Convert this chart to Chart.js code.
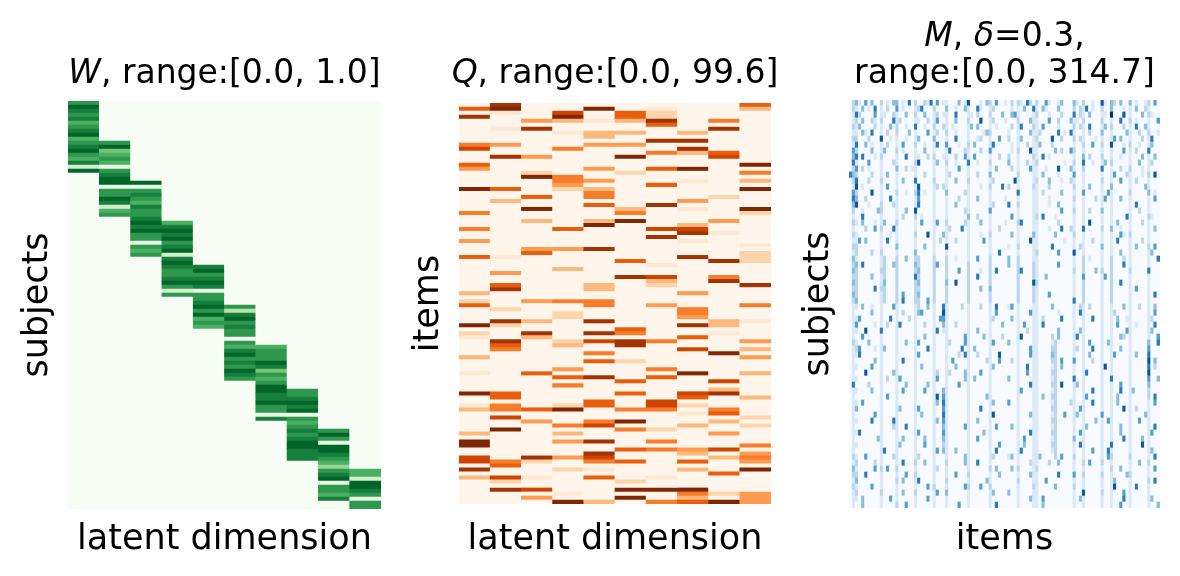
<!DOCTYPE html>
<html>
<head>
<meta charset="utf-8">
<script src="https://cdn.jsdelivr.net/npm/chart.js@4.4.1/dist/chart.umd.min.js"></script>
<style>
  html, body { margin: 0; padding: 0; background: #fff; }
  body { width: 1180px; height: 576px; position: relative; overflow: hidden; font-family: "DejaVu Sans", sans-serif; }
  .panel { position: absolute; top: 0; height: 576px; }
  .title { position: absolute; text-align: center; font-size: 33px; line-height: 37px; color: #000; white-space: nowrap; }
  .title i { font-style: oblique; }
</style>
</head>
<body>
<div class="panel" style="left:0;width:400px"><canvas id="wChart" width="400" height="576"></canvas></div>
<div class="panel" style="left:400px;width:390px"><canvas id="qChart" width="390" height="576"></canvas></div>
<div class="panel" style="left:790px;width:390px"><canvas id="mChart" width="390" height="576"></canvas></div>

<div class="title" style="left:0;width:449px;top:53px"><i>W</i>, range:[0.0, 1.0]</div>
<div class="title" style="left:415px;width:400px;top:53px"><i>Q</i>, range:[0.0, 99.6]</div>
<div class="title" style="left:829px;width:351px;top:16px"><i>M</i>, <i>δ</i>=0.3,<br>range:[0.0, 314.7]</div>

<script>
// levels 0..9 (0 = empty)

// W: 102 subject rows x 10 latent dims, each dim is one run of rows
var wRowCount = 102;
var wStart = [0, 10, 20, 30, 41, 51, 61, 72, 82, 92];
var wLevels = [
    "798786789678976829",
    "7956761789917798267",
    "9178768778989771767",
    "6898978928987789727",
    "8978981778979676",
    "7389787707689787987",
    "6777985767998897718",
    "778989176787899888",
    "797199876478917768",
    "6629987177"
];

// Q: 100 item rows x 10 latent dims, [row, level], other cells empty
var qRowCount = 100;
var qCells = [
    [[1,6],[3,8],[10,5],[11,7],[15,6],[16,4],[21,9],[27,5],[31,5],[34,4],[38,6],[47,3],[49,2],[50,6],[55,9],[57,2],[58,1],[63,3],[67,1],[72,9],[75,1],[76,3],[82,3],[84,9],[85,9],[88,7],[89,7],[91,8],[93,3]],
    [[0,8],[1,9],[2,1],[6,1],[10,4],[13,8],[21,6],[24,3],[38,1],[42,4],[45,6],[46,8],[51,2],[54,8],[55,2],[59,8],[60,6],[61,5],[72,6],[73,6],[75,5],[76,5],[78,7],[81,9],[89,5],[90,6],[93,7],[94,2],[96,8]],
    [[4,4],[6,8],[13,4],[17,2],[18,9],[23,6],[26,9],[29,3],[36,4],[37,6],[49,4],[54,3],[57,8],[58,3],[67,6],[76,6],[79,4],[88,8],[89,2],[93,1],[96,7],[98,4]],
    [[2,7],[3,9],[4,3],[7,1],[11,5],[18,5],[19,5],[20,4],[21,2],[31,6],[36,4],[41,3],[49,5],[52,2],[53,2],[59,2],[60,3],[66,4],[68,6],[70,5],[75,2],[76,9],[80,5],[82,3],[84,4],[88,4],[91,2],[97,1],[99,9]],
    [[1,9],[4,1],[7,3],[8,3],[10,4],[16,4],[19,4],[21,3],[22,5],[23,5],[25,6],[29,3],[30,9],[36,8],[45,3],[46,3],[49,5],[50,5],[54,8],[57,8],[59,7],[62,5],[64,6],[68,8],[74,6],[75,6],[79,5],[80,7],[84,8],[87,8],[88,7],[89,5],[91,1],[93,6],[99,3]],
    [[2,6],[3,6],[4,3],[7,3],[10,4],[13,9],[17,2],[26,3],[27,5],[29,9],[39,6],[43,8],[56,6],[57,5],[59,8],[60,8],[64,2],[69,6],[72,6],[76,5],[79,9],[81,5],[86,6],[89,6],[94,2],[96,9],[98,9]],
    [[1,1],[2,2],[3,2],[4,8],[5,6],[9,8],[12,5],[16,6],[20,6],[25,8],[31,7],[33,8],[40,1],[43,7],[44,3],[45,2],[50,4],[59,5],[66,5],[68,6],[74,7],[75,7],[76,5],[81,2],[84,5],[86,5],[93,1],[96,9],[99,5]],
    [[7,3],[9,8],[11,8],[12,3],[16,9],[19,1],[24,4],[26,1],[30,3],[31,7],[32,8],[34,1],[38,8],[47,4],[51,5],[52,5],[53,4],[55,8],[58,6],[61,7],[67,9],[72,7],[73,6],[75,2],[77,1],[80,3],[86,4],[87,3],[89,6],[91,3],[96,9],[97,5],[98,3],[99,6]],
    [[4,5],[6,8],[12,6],[13,7],[23,2],[29,4],[32,1],[39,8],[43,5],[44,8],[54,3],[55,3],[57,1],[62,9],[69,7],[71,3],[72,8],[76,5],[77,6],[79,3],[82,4],[86,7],[88,3],[92,6],[97,2],[99,9]],
    [[0,6],[1,3],[15,9],[17,5],[19,3],[21,9],[26,9],[27,2],[35,1],[37,2],[38,2],[39,2],[45,8],[50,5],[54,1],[59,4],[61,3],[63,4],[67,3],[73,3],[78,2],[80,2],[85,5],[87,4],[88,5],[89,4],[91,9],[97,4],[98,4],[99,4]]
];

// M: 68 subject bands x 100 items, one string per band (spaces only for reading)
var mItemCount = 100;
var mRows = [
    "0231040300 2010330105 0200215040 1100030160 0010320400 1020210520 2004100130 0031020010 0610320300 3010012040",
    "0210301050 1020040100 0125000200 0300100310 0510012000 0010103005 1031000300 0020215010 0200300010 1030021000",
    "0152000040 1100210030 0200300120 1100500011 0200020003 0034100001 2000100020 0050210300 0110800060 1000302100",
    "0120300210 2000512000 0110020140 0100300020 0060012000 1000200031 1000400200 0311020000 0200100500 2010001004",
    "0213000020 1003020010 0500100200 2101000013 0300010100 0020150002 1040000100 0020210500 0130200020 1050031000",
    "0110310500 1020020003 0100040120 0200100010 0001320000 0100100031 1200000501 0510010200 0300100003 1002002001",
    "0220002000 6001010010 0130000300 0100500010 0120010040 0200130001 2000060020 0020210001 0100140300 1000201500",
    "0150030100 1020010400 0200100150 0400010020 3000015000 0010100201 1300020000 0010020040 0200600010 2001001300",
    "0420000300 1300020100 0100300100 0150000210 0020040000 0010200061 1000003020 0420010000 0100100040 1020005000",
    "0350500010 2000010050 0110020200 1100200410 4000010020 0200100002 1050100000 0010030200 0200100100 1000301030",
    "0510004000 1000210000 0260000130 0200100050 0100020000 0300100201 2000000001 0020050010 0130200000 1003001200",
    "0240201000 1000030020 1100000100 0100040010 0000010300 0020100041 1001000600 0310020000 0500100200 2000101000",
    "5320000200 1030010000 0100200100 0120000010 0200030000 0000200001 1030000100 0040010000 0100140002 1000102060",
    "0250002000 2000010300 0500000200 0100300020 0000012000 0006100001 2000300010 0210010000 0200100400 1020001000",
    "0160100000 1040010000 0160000120 2100000010 0010020005 0200100002 1000200000 0020010300 0100300000 1000031000",
    "0420000600 1000020010 0250100100 0300000210 0000010000 0000500001 1020000030 0010040000 0104100000 2000003010",
    "0530020000 1005010000 0140000100 0100020010 0300010000 1000100001 1000100000 0020010002 0140100300 1000001040",
    "0360001000 2000210000 0150000100 0100300010 0000012000 0500200001 1000100300 0010010000 0100100000 1050001000",
    "0200100003 2000010030 0600000100 0100000210 0000040000 0000100001 1000000040 0020010200 0300100000 1002001000",
    "0100500000 1000010200 0201000100 0100000030 0200010000 0040100001 2050001000 0010010000 0100100005 1000002100",
    "0210300010 1300020000 0104000140 0200000210 0030010000 1000250001 1000000200 0010010600 0100103000 1000201000",
    "0100020040 2000510000 0100000100 0120005010 0000010020 0000100001 1000100050 0210050000 0200300100 1000001030",
    "0210000000 1001010000 0200060100 3100000010 0010020000 0030100003 1000003000 0020010000 0100100410 2000001000",
    "0114030000 1050010000 0100000102 0100200010 0004010000 0000100061 1000000001 0010010020 0100105000 1000201000",
    "0220000000 1000030000 0100300100 0600000010 0000010000 0100200001 1000050000 0010210000 0300100000 1030002040",
    "0120000200 2000010000 0300000100 0100000010 0000010050 0000100001 2000000400 0060010000 0100100300 1000001300",
    "0310000000 1200020030 0220000200 0200100010 0400020000 0300200001 1000000000 0010020100 0100200020 1000001005",
    "0230500000 1200320000 0320000240 0200000020 0000020000 0300200002 1000000400 0010020000 0100200050 1000001000",
    "0320000000 2200020000 0230000200 0200040020 0010020500 0000250002 1000000000 0020020003 0200200000 2000005000",
    "0220000300 1200020000 0520000200 0200000020 0500020000 0000200002 1003000000 0010040000 0140200000 1000001000",
    "0320000000 1300020000 0230000200 0300600020 0000020000 0000200006 2000000000 0010020000 0100200500 1000001000",
    "0220000050 2200020000 0220000200 0200000020 0030030000 0000200002 1000000000 0010020000 0100200000 1040001000",
    "0320000000 1200020400 0230000200 0200000020 0000020000 0000200002 1000400000 0010020000 0100200000 1000001050",
    "0230000000 1200020500 0220040200 0200000020 0000020000 0000200002 1000000000 0050020000 0100200000 1000001000",
    "0110300100 1000410000 0120030100 5100002010 0020010500 0140100001 1000030000 0010210200 0100100030 1002001030",
    "0100000300 1000010200 0134000100 6100000010 0000010400 0000100041 1000000100 0010510000 0100120000 1000001040",
    "0114000000 1005010002 0100000104 4100000010 0000012000 0030100001 1020000050 0010010050 0100103001 1000001200",
    "0140000010 1020015000 0100200100 3100200010 0000010003 0000104001 1050000000 0010010000 0100104000 1010001050",
    "0110060000 5000010000 0100000150 1100000010 0300010000 0000100201 1000000300 0010310000 0100100004 1000001300",
    "0100400000 1000010000 0100300100 0100000410 0003010002 0000160001 1000020300 0015010000 0100100320 1000001004",
    "0210003000 1000010030 0140000100 0120000410 0000014000 0300100001 1000012000 0010010400 0103100000 1000003005",
    "0124000010 1300010000 0100050100 0100005010 3000010000 0000100041 1000022000 0012010050 0100100300 1000004000",
    "0115000000 1000010000 0140000100 0100020510 0200010060 0000100041 1000032000 0010010300 0100140000 1030005000",
    "0100000030 1000010500 0100000100 0104000010 0000210040 0020100001 1000022040 0040010020 0100100000 1000006030",
    "0110000400 1000010000 0103000100 0100300010 0000013000 0000100501 1000012030 0010010000 0160100000 1000005020",
    "0100060000 1000310000 0100000120 0120000310 0040010000 0000100401 1000022000 0010015000 0100100000 1000006000",
    "0110000000 1020014000 0100000140 0100000310 3000010000 0300100001 1000012000 0050010000 0100500000 1000004003",
    "0500002000 1000010030 0100030100 0100040010 0000010000 0000100051 1000022060 0013010000 0100100400 1000003000",
    "0110000300 1000010400 0100400100 3100000010 0000010000 0000140001 1000012000 0010010050 0100100500 1300002000",
    "0100000000 1040010000 0100000160 4100000010 0000310000 0000100001 1030022000 0010014000 0100103000 1000002050",
    "0110400000 1000010000 0100000130 5100000010 0000013000 0400100001 1000012000 0210010050 0100103000 1000001040",
    "0130000000 1000013000 0140000100 4100000010 0050010000 0000100001 1000022000 0010410000 0100100060 1020001000",
    "0100000040 1000010000 0103000100 5100000010 0000016000 0000100031 1000012004 0013010000 0400100000 1000031000",
    "0110000500 1000510000 0100000130 4100000010 0300010000 0000100001 1000022000 0010010003 0104100000 1004001000",
    "0100000000 1000210050 0100000100 3100000410 0000010400 0030100001 1000012000 0010013000 0100100300 1000001050",
    "0115000000 1000010000 0140000100 4100000010 0003010000 0000100051 1000022000 0010410000 0100100300 1000001400",
    "0100000003 1000010300 0100300100 3100000010 0400010000 0000104001 1000012000 0030010000 0100100050 1000301000",
    "0110000000 1000013000 0100400100 2100000010 0000010040 0000103001 1000022000 0010510000 0100500000 1000601000",
    "0100000000 1500010000 0100000140 3100300010 0000010500 0000150001 1000012000 0010010040 0105100000 1000001300",
    "0210040000 1000210000 0120000100 0100000310 0000012000 0130100001 1300002040 0020010000 0104200000 2000001050",
    "0120000020 1000010500 0200300100 0200000310 0500010000 0000100021 1000200300 0010020400 0200100000 1003002000",
    "0310000040 2040020000 0100000120 0100000010 0000020300 0030200001 2000000000 0010010000 0100200300 1000001040",
    "0220050000 1000010040 0200000100 0100400020 0000010030 0000100031 1000000500 0040020000 0200100003 2000001000",
    "0130000000 1000020300 0150000100 0200000010 0000310000 0000200001 1004000000 0010010000 0100130000 1000002050",
    "0210000400 1000010000 0100040200 0100000420 0040020000 0000100002 1000003000 0020010000 0100160000 1050001000",
    "0120000000 2000010300 0200000140 0300000010 0000013000 0300100001 1000000000 0010060000 0200100040 1000001000",
    "0110300000 1004010000 0100040100 0100000010 0000010000 0000100031 1040000000 0010310000 0100100050 1000001300",
    "0100300000 1000020040 0100000100 0100040010 0000010500 0000100001 1030000000 0010010000 0100100400 1000001003"
];

var GREENS  = ['#f7fcf5', '#e5f5e0', '#c7e9c0', '#a1d99b', '#74c476', '#41ab5d', '#238b45', '#006d2c', '#00441b'];
var ORANGES = ['#fff5eb', '#fee6ce', '#fdd0a2', '#fdae6b', '#fd8d3c', '#f16913', '#d94801', '#a63603', '#7f2704'];
var BLUES   = ['#f7fbff', '#deebf7', '#c6dbef', '#9ecae1', '#6baed6', '#4292c6', '#2171b5', '#08519c', '#08306b'];

function hexRgb(h) {
    return [parseInt(h.substr(1, 2), 16), parseInt(h.substr(3, 2), 16), parseInt(h.substr(5, 2), 16)];
}

function cmap(stops, t) {
    t = Math.max(0, Math.min(1, t));
    var p = t * (stops.length - 1);
    var i = Math.min(Math.floor(p), stops.length - 2);
    var f = p - i;
    var a = hexRgb(stops[i]), b = hexRgb(stops[i + 1]);
    return 'rgb(' + [0, 1, 2].map(function(k) { return Math.round(a[k] + (b[k] - a[k]) * f); }).join(',') + ')';
}

// cells as floating bars: x = column index, y = [row, row + 1]
var wData = [];
for (var c = 0; c < wStart.length; c++) {
    for (var r = 0; r < wRowCount; r++) {
        var k = r - wStart[c];
        var lv = (k >= 0 && k < wLevels[c].length) ? +wLevels[c][k] : 0;
        wData.push({x: c, y: [r, r + 1], v: lv});
    }
}

var qData = [];
for (var c = 0; c < qCells.length; c++) {
    var col = new Array(qRowCount).fill(0);
    qCells[c].forEach(function(p) { col[p[0]] = p[1]; });
    for (var r = 0; r < qRowCount; r++) qData.push({x: c, y: [r, r + 1], v: col[r]});
}

var mData = [];
mRows.forEach(function(row, r) {
    var s = row.replace(/ /g, '');
    for (var i = 0; i < mItemCount; i++) mData.push({x: i, y: [r, r + 1], v: +(s[i] || 0)});
});

var axisFont = {family: 'DejaVu Sans', size: 35};

function heatmap(id, cells, nCols, nRows, stops, top, xTitle, yTitle, box) {
    new Chart(document.getElementById(id), {
        type: 'bar',
        data: {
            datasets: [{
                data: cells,
                backgroundColor: function(ctx) { return cmap(stops, ctx.raw.v / top); },
                borderWidth: 0,
                barPercentage: 1,
                categoryPercentage: 1
            }]
        },
        options: {
            responsive: false,
            animation: false,
            events: [],
            layout: {padding: {top: box.top, right: box.right, left: 0, bottom: 0}},
            plugins: {legend: {display: false}, tooltip: {enabled: false}},
            scales: {
                x: {
                    type: 'linear', min: -0.5, max: nCols - 0.5, offset: false,
                    grid: {display: false}, border: {display: false}, ticks: {display: false},
                    title: {display: true, text: xTitle, color: '#000', font: axisFont, padding: {top: 0, bottom: 15}},
                    afterFit: function(s) { s.height = box.xHeight; }
                },
                y: {
                    type: 'linear', min: 0, max: nRows, reverse: true,
                    grid: {display: false}, border: {display: false}, ticks: {display: false},
                    title: {display: true, text: yTitle, color: '#000', font: axisFont, padding: {top: box.yPad, bottom: 0}},
                    afterFit: function(s) { s.width = box.yWidth; }
                }
            }
        }
    });
}

heatmap('wChart', wData, 10, wRowCount, GREENS, 10, 'latent dimension', 'subjects',
        {top: 101, right: 19, xHeight: 67, yWidth: 68, yPad: 17});
heatmap('qChart', qData, 10, qRowCount, ORANGES, 9, 'latent dimension', 'items',
        {top: 103, right: 19, xHeight: 72, yWidth: 59, yPad: 8});
heatmap('mChart', mData, mItemCount, mRows.length, BLUES, 7, 'items', 'subjects',
        {top: 100, right: 20, xHeight: 68, yWidth: 59, yPad: 8});
</script>
</body>
</html>
